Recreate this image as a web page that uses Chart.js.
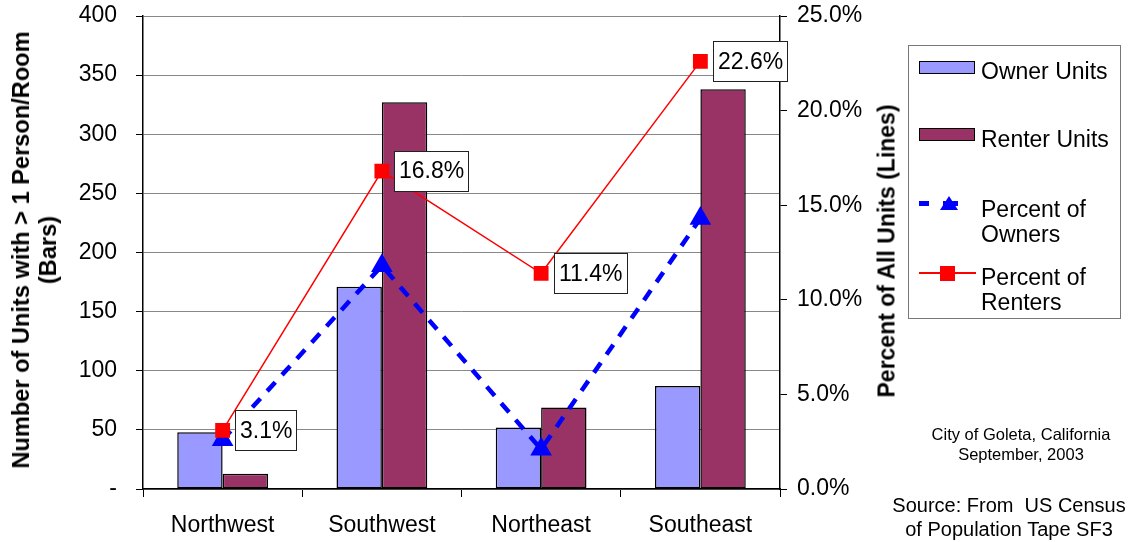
<!DOCTYPE html>
<html>
<head>
<meta charset="utf-8">
<script src="https://cdn.jsdelivr.net/npm/chart.js@4"></script>
<style>
body { margin: 0; background: #fff; font-family: 'Liberation Sans', Arial, sans-serif; color: #000; }
#wrap { position: relative; width: 1129px; height: 542px; overflow: hidden; }
.abs { position: absolute; white-space: nowrap; }
.rot { transform: translate(-50%, -50%) rotate(-90deg); font-weight: bold; font-size: 23px; line-height: 27px; text-align: center; }
.leg { font-size: 23px; line-height: 25px; }
.note { font-size: 16.5px; line-height: 20px; text-align: center; transform: translateX(-50%); }
.src { font-size: 20px; line-height: 24px; text-align: center; transform: translateX(-50%); }
</style>
</head>
<body>
<div id="wrap">
  <canvas id="graph" width="1129" height="542"></canvas>

  <div class="abs rot" style="left:35px; top:250px; font-size:23.6px;">Number of Units with &gt; 1 Person/Room<br>(Bars)</div>
  <div class="abs rot" style="left:887px; top:251px;">Percent of All Units (Lines)</div>

  <div class="abs" style="left:908px; top:45px; width:211px; height:272px; border:1.5px solid #777;"></div>
  <div class="abs" style="left:919px; top:61px; width:54px; height:11px; background:#9999FF; border:1.5px solid #000;"></div>
  <div class="abs leg" style="left:981px; top:59px;">Owner Units</div>
  <div class="abs" style="left:919px; top:128px; width:54px; height:11px; background:#993366; border:1.5px solid #000;"></div>
  <div class="abs leg" style="left:981px; top:127px;">Renter Units</div>

  <div class="abs" style="left:919px; top:201px; width:10px; height:4.5px; background:#0000FF;"></div>
  <div class="abs" style="left:943px; top:201px; width:15px; height:4.5px; background:#0000FF;"></div>
  <div class="abs" style="left:940px; top:196px; width:0; height:0; border-left:9px solid transparent; border-right:9px solid transparent; border-bottom:14px solid #0000FF;"></div>
  <div class="abs leg" style="left:981px; top:197px;">Percent of<br>Owners</div>

  <div class="abs" style="left:919px; top:272px; width:57px; height:1.5px; background:#FF0000;"></div>
  <div class="abs" style="left:940px; top:266px; width:15px; height:15px; background:#FF0000;"></div>
  <div class="abs leg" style="left:981px; top:265px;">Percent of<br>Renters</div>

  <div class="abs note" style="left:1021px; top:424px;">City of Goleta, California<br>September, 2003</div>
  <div class="abs src" style="left:1009px; top:493px;">Source: From&nbsp; US Census<br>of Population Tape SF3</div>
</div>

<script>
const categories = ['Northwest', 'Southwest', 'Northeast', 'Southeast'];
const ownerUnits = [48, 171, 52, 87];
const renterUnits = [13, 327, 69, 338];
const pctOwners = [2.6, 11.8, 2.1, 14.3];
const pctRenters = [3.1, 16.8, 11.4, 22.6];

Chart.defaults.font.family = '"Liberation Sans", Arial, sans-serif';
Chart.defaults.font.size = 23;
Chart.defaults.color = '#000';

// white boxes with the renter percentages, right of each point
const boxLabels = {
    id: 'boxLabels',
    afterDatasetsDraw(chart) {
        const ctx = chart.ctx;
        const meta = chart.getDatasetMeta(0);
        ctx.save();
        ctx.font = '23px "Liberation Sans", Arial, sans-serif';
        ctx.textBaseline = 'middle';
        meta.data.forEach((pt, i) => {
            const txt = pctRenters[i].toFixed(1) + '%';
            const w = Math.round(ctx.measureText(txt).width + 9);
            const x = Math.round(pt.x + 12.5), y = Math.round(pt.y - 20);
            ctx.fillStyle = '#fff';
            ctx.fillRect(x, y, w, 40);
            ctx.strokeStyle = '#222';
            ctx.lineWidth = 1;
            ctx.strokeRect(x + 0.5, y + 0.5, w, 40);
            ctx.fillStyle = '#000';
            ctx.fillText(txt, x + 5, pt.y + 1);
        });
        ctx.restore();
    },
};

const fixY = w => s => {
    s.width = w;
    s.paddingTop = 0;
    s.paddingBottom = 0;
};

const graph = new Chart('graph', {
    type: 'bar',
    data: {
        labels: categories,
        datasets: [{
            type: 'line',
            label: 'Percent of Renters',
            data: pctRenters,
            yAxisID: 'y1',
            order: 0,
            borderColor: '#FF0000',
            borderWidth: 1.5,
            pointStyle: 'rect',
            pointRadius: 10.5,
            pointBackgroundColor: '#FF0000',
            pointBorderWidth: 0,
            tension: 0,
        }, {
            type: 'line',
            label: 'Percent of Owners',
            data: pctOwners,
            yAxisID: 'y1',
            order: 1,
            borderColor: '#0000FF',
            borderWidth: 4.5,
            borderDash: [12, 10],
            pointStyle: 'triangle',
            pointRadius: 12.5,
            pointBackgroundColor: '#0000FF',
            pointBorderWidth: 0,
            tension: 0,
        }, {
            label: 'Owner Units',
            data: ownerUnits,
            yAxisID: 'y',
            order: 2,
            backgroundColor: '#9999FF',
            borderColor: '#000',
            borderWidth: 1.5,
            borderSkipped: false,
        }, {
            label: 'Renter Units',
            data: renterUnits,
            yAxisID: 'y',
            order: 2,
            backgroundColor: '#993366',
            borderColor: '#000',
            borderWidth: 1.5,
            borderSkipped: false,
        }],
    },
    options: {
        responsive: false,
        animation: false,
        devicePixelRatio: 1,
        layout: { autoPadding: false, padding: { top: 16, right: 239, left: 0, bottom: 0 } },
        datasets: { bar: { categoryPercentage: 0.57, barPercentage: 1 } },
        plugins: { legend: { display: false }, tooltip: { enabled: false } },
        scales: {
            x: {
                offset: true,
                grid: { offset: true, drawOnChartArea: false, tickLength: 8, tickColor: '#000' },
                border: { color: '#000', width: 1.5 },
                ticks: { padding: 15, font: { size: 23 } },
                afterFit: s => { s.height = 53; },
            },
            y: {
                position: 'left',
                min: 0,
                max: 400,
                ticks: {
                    stepSize: 50,
                    padding: 19,
                    callback: v => v === 0 ? '-' : v,
                },
                grid: { color: '#888', tickColor: '#000', tickLength: 7 },
                border: { color: '#000', width: 1.5 },
                afterFit: fixY(143),
            },
            y1: {
                position: 'right',
                min: 0,
                max: 25,
                ticks: {
                    stepSize: 5,
                    padding: 10,
                    callback: v => v.toFixed(1) + '%',
                },
                grid: { drawOnChartArea: false, tickColor: '#000', tickLength: 7 },
                border: { color: '#000', width: 1.5 },
                afterFit: fixY(110),
            },
        },
    },
    plugins: [boxLabels],
});
</script>
</body>
</html>
